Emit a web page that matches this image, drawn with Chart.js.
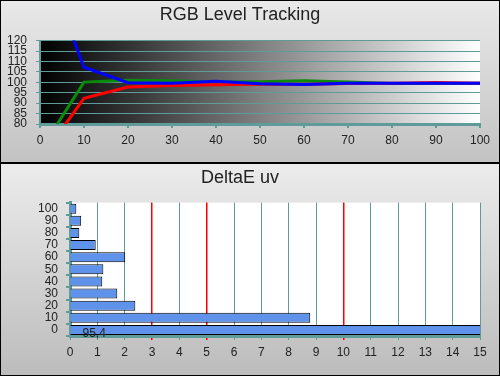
<!DOCTYPE html>
<html>
<head>
<meta charset="utf-8">
<script src="https://cdn.jsdelivr.net/npm/chart.js@4.4.1/dist/chart.umd.min.js"></script>
<style>
  html, body { margin: 0; padding: 0; background: #fff; }
  #wrap { position: relative; width: 500px; height: 376px; overflow: hidden; }
  .panel { position: absolute; left: 0; width: 500px; }
  #topPanel { top: 0; height: 162px; background: linear-gradient(#e9e9e9, #c3c3c3); }
  #sep { position: absolute; left: 0; top: 162px; width: 500px; height: 2px; background: #000; }
  #botPanel { top: 164px; height: 212px; background: linear-gradient(#ececec, #bcbcbc); }
  #frame { position: absolute; left: 0; top: 0; width: 500px; height: 376px; box-sizing: border-box; border: 1px solid #000; pointer-events: none; }
</style>
</head>
<body>
<div id="wrap">
  <div class="panel" id="topPanel"><canvas id="rgbChart" width="500" height="162"></canvas></div>
  <div id="sep"></div>
  <div class="panel" id="botPanel"><canvas id="deChart" width="500" height="212"></canvas></div>
  <div id="frame"></div>
</div>
<script>
// RGB level tracking (top)
const levels = [0, 10, 20, 30, 40, 50, 60, 70, 80, 90, 100];
const redLevel = [63, 92.3, 97.7, 98.5, 98.8, 99.1, 99.1, 99.4, 99.5, 99.9, 99.6];
const greenLevel = [67, 100.1, 101, 100.7, 100.1, 100.3, 100.7, 100.1, 99.4, 99.4, 99.6];
const blueLevel = [163, 107.2, 99.8, 99.5, 100.5, 99.3, 99.0, 99.5, 99.6, 99.6, 99.6];

// DeltaE uv (bottom)
const deLabels = ['0', '10', '20', '30', '40', '50', '60', '70', '80', '90', '100'];
const deltaE = [95.4, 8.79, 2.39, 1.73, 1.18, 1.22, 2.02, 0.94, 0.34, 0.41, 0.23];
const deLimits = [3, 5, 10];

const TEAL = '#5f9b98';
const TEXT = '#222';
Chart.defaults.font.family = "'Liberation Sans', Arial, sans-serif";
Chart.defaults.color = TEXT;
Chart.defaults.animation = false;

// fills the plot area before grid lines go on
const plotBg = {
  id: 'plotBg',
  beforeDraw(chart, args, opts) {
    const { ctx, chartArea: a } = chart;
    ctx.save();
    if (opts.gradient) {
      const g = ctx.createLinearGradient(a.left, 0, a.right, 0);
      g.addColorStop(0, '#000');
      g.addColorStop(1, '#fff');
      ctx.fillStyle = g;
    } else {
      ctx.fillStyle = opts.color || '#fff';
    }
    ctx.fillRect(a.left, a.top, a.width, a.height);
    ctx.restore();
  }
};

// writes the value of bars that run off the axis
const overflowLabel = {
  id: 'overflowLabel',
  afterDatasetsDraw(chart) {
    const { ctx } = chart;
    const max = chart.scales.x.max;
    const meta = chart.getDatasetMeta(0);
    ctx.save();
    ctx.font = "12px 'Liberation Sans', Arial, sans-serif";
    ctx.fillStyle = TEXT;
    ctx.textAlign = 'left';
    ctx.textBaseline = 'middle';
    meta.data.forEach((bar, i) => {
      const v = chart.data.datasets[0].data[i];
      if (v > max) ctx.fillText(String(v).replace('.', ','), bar.base + 12, bar.y + 4);
    });
    ctx.restore();
  }
};

const titleFont = { size: 18, weight: 'normal' };

new Chart(document.getElementById('rgbChart'), {
  type: 'line',
  data: {
    labels: levels,
    datasets: [
      { label: 'Blue', data: blueLevel, borderColor: '#0000ff' },
      { label: 'Red', data: redLevel, borderColor: '#ff0000' },
      { label: 'Green', data: greenLevel, borderColor: '#0a8a0a' },
    ].map(d => ({ ...d, borderWidth: 3, pointRadius: 0, tension: 0, fill: false }))
  },
  options: {
    responsive: false,
    layout: { padding: { left: 0, right: 20, top: 0, bottom: 0 } },
    plugins: {
      legend: { display: false },
      tooltip: { enabled: false },
      title: { display: true, text: 'RGB Level Tracking', color: TEXT, font: titleFont, padding: { top: 4, bottom: 15 } },
      plotBg: { gradient: true }
    },
    scales: {
      x: {
        type: 'linear', min: 0, max: 100,
        ticks: { stepSize: 10, font: { size: 12 }, padding: 5, color: TEXT },
        grid: { drawOnChartArea: false, color: TEAL, lineWidth: 2, tickLength: 4 },
        border: { color: TEAL, width: 3 },
        afterFit: (s) => { s.height = 38; }
      },
      y: {
        min: 80, max: 120,
        ticks: { stepSize: 5, autoSkip: false, font: { size: 12 }, padding: 9, color: TEXT },
        grid: { color: TEAL, lineWidth: 1, tickLength: 4 },
        border: { color: TEAL, width: 2 },
        afterFit: (s) => { s.width = 40; }
      }
    }
  },
  plugins: [plotBg]
});

new Chart(document.getElementById('deChart'), {
  type: 'bar',
  data: {
    labels: deLabels,
    datasets: [{
      label: 'DeltaE uv',
      data: deltaE,
      backgroundColor: '#5f92ea',
      borderColor: '#000',
      borderWidth: 1,
      borderSkipped: 'left',
      barPercentage: 0.82,
      categoryPercentage: 1
    }]
  },
  options: {
    responsive: false,
    indexAxis: 'y',
    layout: { padding: { left: 0, right: 20, top: 0, bottom: 0 } },
    plugins: {
      legend: { display: false },
      tooltip: { enabled: false },
      title: { display: true, text: 'DeltaE uv', color: TEXT, font: titleFont, padding: { top: 3, bottom: 14 } },
      plotBg: { color: '#fff' }
    },
    scales: {
      x: {
        type: 'linear', min: 0, max: 15,
        ticks: { stepSize: 1, font: { size: 12 }, padding: 5, color: TEXT },
        grid: {
          color: (c) => deLimits.includes(c.tick && c.tick.value) ? '#ff0000' : TEAL,
          lineWidth: (c) => deLimits.includes(c.tick && c.tick.value) ? 1.5 : 1,
          tickLength: 4
        },
        border: { color: TEAL, width: 3 },
        afterFit: (s) => { s.height = 40; }
      },
      y: {
        reverse: true,
        ticks: { autoSkip: false, font: { size: 12 }, padding: 8, color: TEXT },
        grid: { drawOnChartArea: false, offset: true, color: TEAL, lineWidth: 2, tickLength: 4 },
        border: { color: TEAL, width: 3 },
        afterFit: (s) => { s.width = 70; }
      }
    }
  },
  plugins: [plotBg, overflowLabel]
});
</script>
</body>
</html>
